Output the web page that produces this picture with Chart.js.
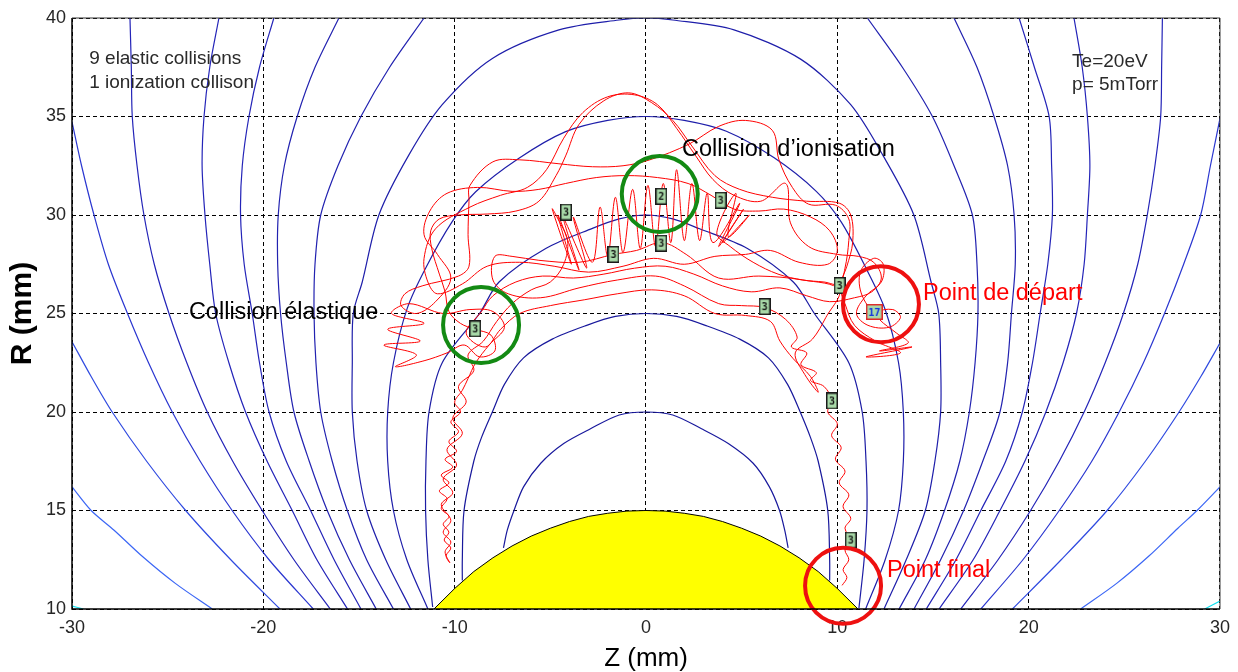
<!DOCTYPE html>
<html>
<head>
<meta charset="utf-8">
<script src="https://cdn.jsdelivr.net/npm/chart.js@4.4.0/dist/chart.umd.min.js"></script>
<style>
  html, body { margin: 0; padding: 0; background: #fff; }
  #wrap { width: 1238px; height: 672px; }
</style>
</head>
<body>
<div id="wrap"><canvas id="chart" width="1238" height="672"></canvas></div>
<script>
// ticks
const zTicks = [-30, -20, -10, 0, 10, 20, 30];
const rTicks = [10, 15, 20, 25, 30, 35, 40];

// field lines, left and right branches that leave the frame
const lineZL = [[-30,16.2],[-29.0,15],[-27.8,14],[-26.3,12.65],[-24.6,11.3],[-22.67,10]];
const lineZR = [[22.72,10],[24.6,11.3],[26.3,12.7],[27.8,14.1],[28.8,15],[30,16.2]];
const lineYL = [[-30,23.57],[-29.0,21.8],[-27.9,20],[-26.1,17.5],[-24.06,15],[-21.7,12.5],[-19.13,10]];
const lineYR = [[19.15,10],[21.7,12.5],[24.1,15],[26.1,17.5],[27.86,20],[29.0,21.8],[30,23.5]];
const lineAL = [[-30,34.73],[-29.5,32.5],[-28.85,30],[-28.1,27.5],[-27.1,25],[-26.0,22.5],[-24.76,20],[-23.3,17.5],[-21.63,15],[-19.7,12.5],[-17.39,10]];
const lineAR = [[17.5,10],[19.7,12.5],[21.6,15],[23.3,17.5],[24.73,20],[26.0,22.5],[27.1,25],[28.1,27.5],[28.99,30],[29.5,32.5],[30,34.9]];
const lineBL = [[-26.97,40],[-26.9,37.5],[-26.85,35],[-26.6,32.5],[-26.24,30],[-25.7,27.5],[-24.93,25],[-24.0,22.5],[-22.93,20],[-21.6,17.5],[-20.06,15],[-18.4,12.5],[-16.5,10]];
const lineBR = [[16.45,10],[18.4,12.5],[20.1,15],[21.6,17.5],[22.9,20],[24.0,22.5],[24.95,25],[25.7,27.5],[26.2,30],[26.6,32.5],[26.9,35],[26.95,37.5],[26.99,40]];
const lineCL = [[-22.32,40],[-22.8,37.5],[-23.1,35],[-23.2,32.5],[-23.05,30],[-22.8,27.5],[-22.49,25],[-21.8,22.5],[-20.93,20],[-19.8,17.5],[-18.49,15],[-17.2,12.5],[-15.6,10]];
const lineCR = [[15.32,10],[17.1,12.5],[18.5,15],[19.8,17.5],[20.9,20],[21.8,22.5],[22.5,25],[22.9,27.5],[23.07,30],[23.2,32.5],[23.07,35],[22.8,37.5],[22.37,40]];
const lineDL = [[-19.45,40],[-20.2,37.5],[-20.75,35],[-21.1,32.5],[-21.19,30],[-21.0,27.5],[-20.58,25],[-20.2,22.5],[-19.7,20],[-18.8,17.5],[-17.53,15],[-16.3,12.5],[-14.9,10]];
const lineDR = [[14.65,10],[16.2,12.5],[17.5,15],[18.8,17.5],[19.67,20],[20.2,22.5],[20.6,25],[21.0,27.5],[21.24,30],[21.2,32.5],[21.07,35],[20.3,37.5],[19.5,40]];
const lineEL = [[-16.05,40],[-17.3,37.5],[-18.23,35],[-18.9,32.5],[-19.22,30],[-19.25,27.5],[-19.1,25],[-18.8,22.5],[-18.4,20],[-17.6,17.5],[-16.66,15],[-15.5,12.5],[-14.1,10]];
const lineER = [[14.01,10],[15.4,12.5],[16.6,15],[17.6,17.5],[18.5,20],[18.9,22.5],[19.1,25],[19.3,27.5],[19.24,30],[18.9,32.5],[18.19,35],[17.3,37.5],[16.1,40]];
const lineFL = [[-11.6,40],[-13.4,37.5],[-14.9,35],[-16.1,32.5],[-17.0,30],[-17.3,27.5],[-17.35,25],[-17.25,22.5],[-17.0,20],[-16.4,17.5],[-15.61,15],[-14.6,12.5],[-13.2,10]];
const lineFR = [[13.23,10],[14.6,12.5],[15.6,15],[16.4,17.5],[16.9,20],[17.2,22.5],[17.35,25],[17.3,27.5],[17.06,30],[16.1,32.5],[14.97,35],[13.4,37.5],[11.57,40]];

// field lines closing over the target
const lineG = [[-12.3,10],[-13.6,12.5],[-14.6,15],[-15.1,17.5],[-15.35,20],[-15.35,22.5],[-15.3,25],[-14.83,26.6],[-13.96,30],[-12.39,33.05],[-10.65,35.6],[-8.03,37.95],[-4.55,39.4],[-1.41,39.9],[0,40],[1.4,39.9],[4.6,39.4],[8.1,37.9],[10.7,35.6],[12.4,33.0],[14.0,30],[14.9,26.6],[15.3,25],[15.4,22.5],[15.4,20],[15.1,17.5],[14.6,15],[13.6,12.5],[12.44,10]];
const lineH = [[-11.4,10],[-12.5,12.5],[-13.2,15],[-13.5,17.5],[-13.5,20],[-13.2,22.5],[-12.48,25.26],[-11.52,27.3],[-10.13,29.66],[-8.9,31.18],[-6.64,32.88],[-4.2,34.23],[-2.0,34.8],[0,35],[2.0,34.8],[4.2,34.25],[6.7,32.9],[8.9,31.2],[10.2,29.65],[11.5,27.3],[12.5,25.2],[13.2,22.5],[13.45,20],[13.45,17.5],[13.2,15],[12.5,12.5],[11.48,10]];
const lineC3 = [[-11.15,10.1],[-11.4,12.5],[-11.52,15],[-11.5,17.5],[-11.34,20],[-10.65,22.5],[-8.7,25],[-7.68,26.6],[-5.24,28.3],[-2.8,29.32],[-1.4,29.8],[0,30],[1.4,29.8],[2.8,29.3],[5.3,28.3],[7.7,26.6],[8.8,25],[10.6,22.5],[11.3,20],[11.5,17.5],[11.55,15],[11.4,12.5],[11.13,10.05]];
const lineC2 = [[-9.6,11.45],[-9.6,12.5],[-9.51,15],[-9.0,17.5],[-8.6,18.7],[-8.03,20],[-7.4,21.4],[-6.4,22.75],[-4.9,23.7],[-3.1,24.4],[-1.6,24.85],[0,25],[1.6,24.85],[3.1,24.4],[4.9,23.7],[6.4,22.75],[7.4,21.4],[8.06,20],[8.6,18.7],[9.0,17.5],[9.5,15],[9.6,12.5],[9.6,11.45]];
const lineC1 = [[-7.45,13.1],[-7.25,14],[-6.9,15],[-6.4,16.2],[-5.5,17.4],[-4.3,18.4],[-2.9,19.15],[-1.4,19.85],[0,20],[1.4,19.85],[2.9,19.15],[4.3,18.4],[5.6,17.4],[6.45,16.2],[6.98,15],[7.25,14],[7.43,13.1]];
const cornerL = [[-30,10.15],[-29.4,10]];
const cornerR = [[29.2,10],[30,10.4]];

// target (yellow)
const target = [[-11.08,10],[-10,11.04],[-9,11.9],[-8,12.6],[-7,13.2],[-6,13.7],[-5,14.1],[-4,14.44],[-3,14.7],[-2,14.86],[-1,14.97],[0,15],[1,14.97],[2,14.86],[3,14.7],[4,14.44],[5,14.1],[6,13.7],[7,13.2],[8,12.6],[9,11.9],[10,11.04],[11.08,10]];

// electron path
const trajectory = [
  [11.9,25.1],[12.9,25.2],[13.3,24.8],[12.7,24.3],[11.6,24.4],[11.0,25.0],[11.5,25.9],[12.3,26.6],[12.4,27.5],[11.9,27.8],[11.2,27.1],[11.3,25.9],[12.2,24.7],[13.1,24.0],[13.7,23.5],[12.2,23.1],[13.9,23.3],[11.5,22.8],[13.3,23.0],[12.0,23.6],[10.9,24.4],[10.4,25.5],[10.15,26.4],
  [10.5,27.4],[10.8,28.6],[10.7,30.0],[10.1,30.6],[8.4,30.7],[6.6,30.9],[4.9,31.3],[3.6,32.0],[2.4,33.5],[1.4,34.8],[0.3,35.7],[-0.9,36.2],[-2.2,35.8],[-3.5,34.6],[-4.2,33.0],[-4.7,32.0],[-5.6,30.7],[-6.8,30.2],[-8.3,30.05],[-9.8,30.0],[-10.8,29.8],[-11.25,29.2],[-11.2,28.3],[-10.8,27.0],[-10.5,26.1],[-10.3,25.1],[-9.7,24.5],[-8.94,24.2],
  [-8.1,23.9],[-7.9,23.1],[-8.7,22.8],[-9.5,23.4],[-10.4,23.0],[-11.6,22.6],[-13.1,22.3],[-12.0,22.9],[-13.7,23.4],[-11.8,23.6],[-13.5,24.2],[-11.6,24.5],[-13.3,25.0],[-12.4,25.5],[-10.6,25.0],[-9.2,25.2],[-8.0,25.1],[-7.4,24.3],[-8.2,23.4],[-8.9,22.5],[-9.3,21.7],
  [-9.6,21.1],[-10.0,20.5],[-9.7,20.0],[-10.2,19.5],[-9.8,19.0],[-10.3,18.5],[-9.9,18.0],[-10.5,17.6],[-10.1,17.2],[-10.7,16.8],[-10.3,16.4],[-10.8,16.0],[-10.4,15.6],[-10.7,15.1],[-10.3,14.7],[-10.6,14.3],[-10.3,13.9],[-10.55,13.5],[-10.2,13.1],[-10.45,12.7],[-10.25,12.35],
  [-10.5,12.9],[-10.2,13.4],[-10.6,13.9],[-10.2,14.5],[-10.7,15.3],[-10.1,15.9],[-10.6,16.6],[-9.9,17.3],[-10.4,18.1],[-9.6,18.9],[-10.1,19.7],[-9.4,20.5],[-9.8,21.3],[-9.0,22.1],[-9.3,22.9],[-8.5,23.6],
  [-7.8,24.6],[-7.0,25.5],[-6.0,26.2],[-5.0,26.6],[-4.3,27.5],[-4.1,28.7],[-4.6,29.8],
  [-4.9,30.3],[-3.9,27.5],[-4.6,30.0],[-3.5,27.2],[-4.3,29.8],[-3.1,27.3],[-3.8,29.9],[-2.8,27.6],
  [-2.4,30.4],[-2.0,27.9],[-1.6,30.9],[-1.2,28.1],[-0.7,31.3],[-0.3,28.3],[0.1,31.5],[0.5,28.4],[0.9,31.6],[1.3,28.6],[1.6,32.3],[2.0,28.7],[2.4,31.6],[2.8,28.7],[3.2,31.1],[3.5,28.6],
  [4.9,30.6],[3.8,28.4],[5.1,30.3],[4.0,28.6],[5.4,30.0],[4.3,28.9],[4.7,31.1],[3.7,29.1],
  [4.4,28.4],[5.6,27.6],[6.9,27.0],[8.2,26.7],[9.3,26.6],[10.1,26.5],
  [10.4,27.3],[10.6,28.7],[10.6,29.8],[9.9,30.5],[8.5,30.55],[7.65,31.4],[6.95,32.8],[6.6,34.3],[5.2,34.8],[3.8,34.5],[2.25,33.6],[0.2,32.8],[-1.2,32.5],[-2.8,32.45],[-4.55,32.6],[-6.6,32.8],[-8.0,32.7],[-9.2,31.5],[-9.25,30.7],[-9.3,29.0],[-9.25,27.4],[-9.8,26.9],[-11.7,26.4],[-12.6,26.0],[-12.8,25.4],[-12.0,25.0],
  [-11.0,25.6],[-10.2,26.8],[-10.9,28.0],[-11.6,29.0],[-11.3,30.2],[-10.4,31.1],[-8.8,31.4],[-7.0,31.2],[-5.6,31.3],[-4.2,31.6],[-2.6,31.9],[-1.0,32.0],[0.6,31.9],[2.2,31.6],[3.4,31.0],[4.6,30.3],[5.9,30.2],[7.2,30.3],[8.6,29.9],[9.6,29.2],[10.0,28.2],[9.5,27.5],[8.0,27.6],[6.5,28.2],[5.2,28.0],[3.6,27.9],[2.0,27.5],[0.4,27.8],[-1.2,27.4],[-3.0,27.1],[-4.8,27.4],[-6.6,27.6],[-8.3,27.4],[-9.6,26.5],[-10.9,26.0],
  [-11.4,26.6],[-11.6,27.8],[-11.0,29.3],[-9.2,30.4],[-7.6,31.0],[-6.2,31.4],[-5.2,32.3],[-4.3,33.9],[-3.3,35.2],[-2.0,36.0],[-0.6,36.1],[0.6,35.6],[1.6,34.4],[2.6,33.0],[3.5,31.8],[4.6,31.0],[6.0,30.7],[7.3,31.6],[7.55,29.6],[8.5,28.4],[10.0,28.0],[11.1,27.9],[11.9,27.6],[12.3,26.8],[11.8,26.1],[10.9,25.8],
  [9.6,25.6],[8.4,25.9],[7.0,26.3],[5.5,26.1],[4.0,26.4],[2.5,27.0],[1.0,27.4],[-0.6,27.3],[-2.2,27.0],[-3.8,26.8],[-5.4,26.9],[-6.8,26.6],[-8.0,25.9],[-8.6,25.1],[-9.4,24.0],[-8.4,23.3],[-7.6,24.2],[-6.6,25.0],[-5.0,25.4],[-3.2,25.7],[-1.5,26.0],[0.3,26.2],[2.0,25.9],[3.6,25.0],[5.2,24.9],[6.5,24.6],[7.0,23.6],[7.7,22.7],[8.6,21.8],[9.0,21.0],[8.3,21.9],[7.8,23.0],[8.7,23.7],[9.4,24.8],[10.1,26.2],
  [8.2,26.7],[5.9,26.9],[3.8,26.8],[2.1,28.0],[0.84,28.6],[-0.5,28.2],[-1.7,28.0],[-3.5,27.6],[-5.6,27.7],[-7.0,27.9],[-7.9,27.9],[-8.0,26.7],[-7.2,26.0],[-5.5,25.8],[-3.5,26.3],[-1.5,26.7],[0.5,26.9],[2.0,26.4],[3.8,25.5],[5.0,25.4],[6.2,25.3],
  [7.3,24.7],[7.9,23.8],[7.6,23.3],[8.4,23.0],[8.1,22.4],[8.9,22.0],[8.6,21.6],[9.3,21.3],[9.7,20.6],[9.5,20.0],[10.0,19.4],[9.7,18.8],[10.2,18.2],[9.9,17.6],[10.4,17.0],[10.1,16.4],[10.6,15.8],[10.3,15.2],[10.7,14.6],[10.4,14.1],[10.7,13.5],[10.4,13.0],[10.6,12.5],[10.3,12.0],[10.5,11.6],[10.25,11.2]
];

// collisions
const elasticHits = [[-4.18,30.15],[3.9,30.75],[-1.7,28.0],[0.8,28.57],[10.12,26.42],[6.2,25.35],[-8.93,24.22],[9.72,20.56],[10.7,13.5]];
const ionHits = [[0.8,30.95]];
const startPoint = [[11.93,25.08]];

// circled spots
const greenRings = [[-8.62,24.42],[0.72,31.07]];
const redRings = [[12.28,25.47],[10.3,11.18]];

// texts
const notes = [
  { text: '9 elastic collisions', z: -29.1, r: 37.66, kind: 'info' },
  { text: '1 ionization collison', z: -29.1, r: 36.43, kind: 'info' },
  { text: 'Te=20eV', z: 22.27, r: 37.53, kind: 'info' },
  { text: 'p= 5mTorr', z: 22.27, r: 36.35, kind: 'info' },
  { text: 'Collision d\u2019ionisation', z: 1.88, r: 33.0, kind: 'black' },
  { text: 'Collision \u00e9lastique', z: -23.89, r: 24.72, kind: 'black' },
  { text: 'Point de d\u00e9part', z: 14.48, r: 25.69, kind: 'red' },
  { text: 'Point final', z: 12.6, r: 11.62, kind: 'red' }
];

const family = '"Liberation Sans", Arial, sans-serif';
const pts = arr => arr.map(p => ({ x: p[0], y: p[1] }));

function makeBox(label, w, h, edge, ink) {
  const c = document.createElement('canvas');
  c.width = w; c.height = h;
  const g = c.getContext('2d');
  g.fillStyle = '#a8d9a8';
  g.fillRect(0, 0, w, h);
  g.strokeStyle = edge;
  g.lineWidth = 1.5;
  g.strokeRect(0.75, 0.75, w - 1.5, h - 1.5);
  g.fillStyle = ink;
  g.font = 'bold 10px "DejaVu Sans Mono", monospace';
  g.textAlign = 'center';
  g.textBaseline = 'middle';
  g.fillText(label, w / 2, h / 2 + 1);
  return c;
}

function field(arr, color) {
  return { data: pts(arr), showLine: true, borderColor: color, borderWidth: 1.2,
           pointRadius: 0, tension: 0.3, fill: false, order: 6 };
}

const datasets = [
  field(lineZL, '#3b66f5'), field(lineZR, '#3b66f5'),
  field(lineYL, '#2f4ae0'), field(lineYR, '#2f4ae0'),
  field(lineAL, '#2a36d0'), field(lineAR, '#2a36d0'),
  field(lineBL, '#2424b8'), field(lineBR, '#2424b8'),
  field(lineCL, '#2424b8'), field(lineCR, '#2424b8'),
  field(lineDL, '#2424b8'), field(lineDR, '#2424b8'),
  field(lineEL, '#2222b0'), field(lineER, '#2222b0'),
  field(lineFL, '#2222b0'), field(lineFR, '#2222b0'),
  field(lineG, '#1e1eaa'), field(lineH, '#1e1eaa'),
  field(lineC3, '#1c1ca4'), field(lineC2, '#18189c'), field(lineC1, '#18189c'),
  field(cornerL, '#10e0ee'), field(cornerR, '#10e0ee'),
  { data: pts(target), showLine: true, borderColor: '#000', borderWidth: 1,
    backgroundColor: '#ffff00', fill: { value: 10 }, pointRadius: 0, tension: 0, order: 5 },
  { data: pts(trajectory), showLine: true, borderColor: '#ff0000', borderWidth: 1,
    pointRadius: 0, tension: 0.35, fill: false, order: 4 },
  { data: pts(elasticHits), showLine: false, pointStyle: makeBox('3', 12, 17, '#1a1a1a', '#111'), order: 3 },
  { data: pts(ionHits), showLine: false, pointStyle: makeBox('2', 12, 17, '#1a1a1a', '#111'), order: 3 },
  { data: pts(startPoint), showLine: false, pointStyle: makeBox('17', 17, 16, '#e02828', '#1030e0'), order: 3 },
  { data: pts(greenRings), showLine: false, pointStyle: 'circle', pointRadius: 38, pointBorderWidth: 4,
    pointBorderColor: '#138a13', pointBackgroundColor: 'rgba(0,0,0,0)', clip: false, order: 1 },
  { data: pts(redRings), showLine: false, pointStyle: 'circle', pointRadius: 38, pointBorderWidth: 4,
    pointBorderColor: '#ee1010', pointBackgroundColor: 'rgba(0,0,0,0)', clip: false, order: 1 }
];

// frame around the plot and the free texts
const decorations = {
  id: 'decorations',
  afterDatasetsDraw(chart) {
    const ctx = chart.ctx, sx = chart.scales.x, sy = chart.scales.y, a = chart.chartArea;
    ctx.save();
    ctx.strokeStyle = '#000';
    ctx.lineWidth = 1.5;
    ctx.beginPath();
    ctx.moveTo(a.left, a.top); ctx.lineTo(a.left, a.bottom); ctx.lineTo(a.right, a.bottom);
    ctx.stroke();
    ctx.strokeStyle = '#333';
    ctx.lineWidth = 1;
    ctx.beginPath();
    ctx.moveTo(a.left, a.top); ctx.lineTo(a.right, a.top); ctx.lineTo(a.right, a.bottom);
    ctx.stroke();
    ctx.textAlign = 'left';
    ctx.textBaseline = 'alphabetic';
    notes.forEach(n => {
      if (n.kind === 'info') { ctx.font = '19px ' + family; ctx.fillStyle = '#2a2a2a'; }
      else if (n.kind === 'red') { ctx.font = '23.5px ' + family; ctx.fillStyle = '#ff0000'; }
      else { ctx.font = '23.5px ' + family; ctx.fillStyle = '#000'; }
      ctx.fillText(n.text, sx.getPixelForValue(n.z), sy.getPixelForValue(n.r));
    });
    ctx.restore();
  }
};

new Chart(document.getElementById('chart'), {
  type: 'scatter',
  data: { datasets: datasets },
  options: {
    responsive: false,
    animation: false,
    devicePixelRatio: 1,
    events: [],
    layout: { autoPadding: false, padding: { top: 18, right: 18, left: 0, bottom: 0 } },
    plugins: { legend: { display: false }, tooltip: { enabled: false } },
    scales: {
      x: {
        type: 'linear', min: -30, max: 30,
        afterBuildTicks: s => { s.ticks = zTicks.map(v => ({ value: v })); },
        afterFit: s => { s.height = 63; },
        grid: { color: '#000', lineWidth: 1, drawTicks: false },
        border: { display: false, dash: [4, 3] },
        ticks: { padding: 8, color: '#262626', font: { family: family, size: 18 } },
        title: { display: true, text: 'Z (mm)', color: '#000', padding: 0,
                 font: { family: family, size: 26, lineHeight: 1 } }
      },
      y: {
        type: 'linear', min: 10, max: 40,
        afterBuildTicks: s => { s.ticks = rTicks.map(v => ({ value: v })); },
        afterFit: s => { s.width = 72; },
        grid: { color: '#000', lineWidth: 1, drawTicks: false },
        border: { display: false, dash: [4, 3] },
        ticks: { padding: 6, color: '#262626', font: { family: family, size: 18 } },
        title: { display: true, text: 'R (mm)', color: '#000', padding: { top: 8, bottom: 0 },
                 font: { family: family, size: 30, weight: 'bold', lineHeight: 1 } }
      }
    }
  },
  plugins: [decorations]
});
</script>
</body>
</html>
